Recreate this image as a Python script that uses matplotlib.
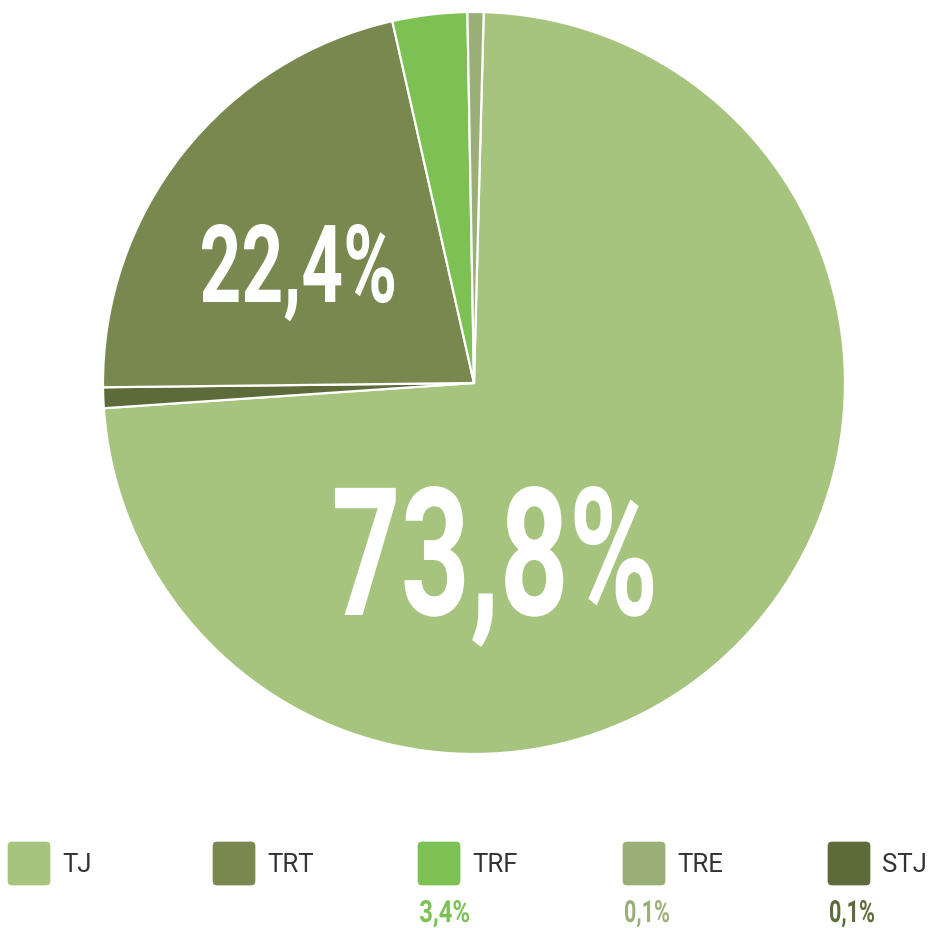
import matplotlib
matplotlib.use("Agg")
import matplotlib.pyplot as plt
from matplotlib.textpath import TextPath
from matplotlib.font_manager import FontProperties
from matplotlib.patches import PathPatch, FancyBboxPatch
from matplotlib.transforms import Affine2D

# ---- data ----
categories = ["TJ", "STJ", "TRT", "TRF", "TRE"]          # clockwise drawing order
shares = [73.5, 0.9, 21.65, 3.25, 0.7]                   # slice sizes as drawn (%)
colors = ["#a7c47f", "#5c6b39", "#78884e", "#7dc154", "#9aaf78"]

legend_names = ["TJ", "TRT", "TRF", "TRE", "STJ"]
legend_colors = ["#a7c47f", "#78884e", "#7dc154", "#9aaf78", "#5c6b39"]
legend_values = ["", "", "3,4%", "0,1%", "0,1%"]

big_labels = ["73,8%", "22,4%"]

W = H = 929
fig = plt.figure(figsize=(W / 100, H / 100), dpi=100)
fig.patch.set_facecolor("white")

# pie axes
cx, cy, R = 474, 384, 371
ax = fig.add_axes([(cx - R) / W, (H - cy - R) / H, 2 * R / W, 2 * R / H])
wedges, _ = ax.pie(shares, colors=colors, startangle=88.5, counterclock=False, radius=1,
                   wedgeprops=dict(edgecolor="white", linewidth=1.6))
for w in wedges:
    w.set_clip_on(False)
ax.set_xlim(-1, 1)
ax.set_ylim(-1, 1)
ax.set_aspect("equal")
ax.axis("off")

# overlay axes in pixel coordinates
ov = fig.add_axes([0, 0, 1, 1])
ov.set_xlim(0, W)
ov.set_ylim(H, 0)
ov.axis("off")
ov.patch.set_alpha(0)

fp_bold = FontProperties(family="Roboto", weight="bold")


def cond_text(s, left, right, top, baseline, color):
    tp = TextPath((0, 0), s, size=100, prop=fp_bold)
    ext = tp.get_extents()
    sx = (right - left) / ext.width
    sy = (baseline - top) / ext.y1
    tr = Affine2D().translate(-ext.x0, 0).scale(sx, -sy).translate(left, baseline)
    ov.add_patch(PathPatch(tr.transform_path(tp), fc=color, ec="none", lw=0))


cond_text(big_labels[0], 335, 653, 487, 616, "white")
cond_text(big_labels[1], 202, 394, 225, 303, "white")

# legend
x0, step = 8, 205
for i, (name, col, val) in enumerate(zip(legend_names, legend_colors, legend_values)):
    x = x0 + i * step
    ov.add_patch(FancyBboxPatch((x, 843), 42, 43, boxstyle="round,pad=0,rounding_size=4",
                                fc=col, ec=col, lw=0.5))
    ov.text(x + 54, 865, name, fontsize=18.5, family="Roboto", color="#333333",
            va="center", ha="left")
    if val:
        w = 49 if val.startswith("3") else 44
        cond_text(val, x + 2, x + 2 + w, 901, 923, col)

fig.savefig("out.png", dpi=100, facecolor="white")
